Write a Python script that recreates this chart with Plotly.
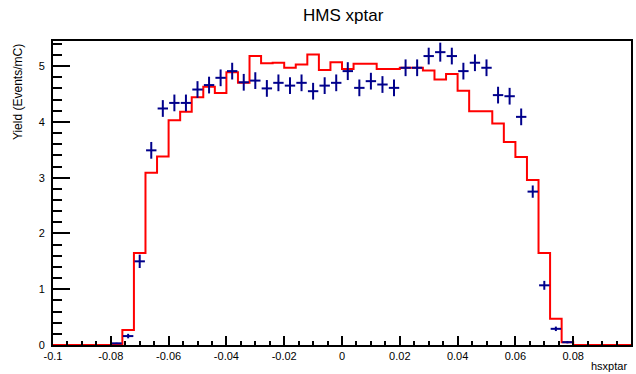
import numpy as np
import plotly.graph_objects as go

# Histogram binning: 50 bins on [-0.1, 0.1]
n_bins = 50
x_min, x_max = -0.1, 0.1

# Simulated yield per bin (red histogram)
sim_yield = [
    0, 0, 0, 0, 0,
    0, 0.27, 1.65, 3.09, 3.38, 4.03, 4.18, 4.44, 4.63, 4.52,
    4.89, 4.70, 5.18, 5.05, 5.06, 4.97, 5.03, 5.21, 4.93, 5.07,
    4.95, 5.04, 5.04, 4.95, 4.95, 4.97, 4.97, 4.92, 4.76, 4.86,
    4.56, 4.19, 4.19, 3.97, 3.64, 3.37, 2.96, 1.65, 0.47, 0.05,
    0, 0, 0, 0, 0,
]

# Measured yield per bin (blue points) and its statistical error
data_yield = [
    0, 0, 0, 0, 0,
    0.03, 0.16, 1.50, 3.49, 4.24, 4.34, 4.34, 4.58, 4.66, 4.79,
    4.91, 4.71, 4.74, 4.60, 4.70, 4.65, 4.70, 4.55, 4.65, 4.70,
    4.91, 4.61, 4.73, 4.67, 4.61, 4.97, 4.97, 5.18, 5.25, 5.18,
    4.91, 5.06, 4.97, 4.48, 4.46, 4.09, 2.75, 1.07, 0.29, 0.05,
    0, 0, 0, 0, 0,
]
data_err = [
    0, 0, 0, 0, 0,
    0.01, 0.04, 0.12, 0.15, 0.15, 0.15, 0.15, 0.15, 0.15, 0.15,
    0.15, 0.15, 0.15, 0.15, 0.15, 0.15, 0.15, 0.15, 0.15, 0.15,
    0.16, 0.15, 0.15, 0.15, 0.15, 0.15, 0.15, 0.15, 0.17, 0.15,
    0.15, 0.15, 0.15, 0.15, 0.15, 0.15, 0.11, 0.08, 0.04, 0.02,
    0, 0, 0, 0, 0,
]

x_tick_vals = [-0.1, -0.08, -0.06, -0.04, -0.02, 0, 0.02, 0.04, 0.06, 0.08, 0.1]
x_tick_text = ["-0.1", "-0.08", "-0.06", "-0.04", "-0.02", "0",
               "0.02", "0.04", "0.06", "0.08", "0.1"]
y_tick_vals = [0, 1, 2, 3, 4, 5]
y_tick_text = ["0", "1", "2", "3", "4", "5"]

edges = np.linspace(x_min, x_max, n_bins + 1)
centers = 0.5 * (edges[:-1] + edges[1:])
half_width = 0.5 * (edges[1] - edges[0])

sim = np.array(sim_yield)
dat = np.array(data_yield)
err = np.array(data_err)
filled = dat > 0

FONT = "Liberation Sans, Arial, Helvetica, sans-serif"
NAVY = "#00008b"

fig = go.Figure()

# Simulation drawn as a step outline
fig.add_trace(go.Scatter(
    x=edges,
    y=np.append(sim, sim[-1]),
    mode="lines",
    line=dict(shape="hv", color="#ff0000", width=2),
    hoverinfo="skip",
    showlegend=False,
))

# Data drawn as error-bar crosses (no visible marker)
fig.add_trace(go.Scatter(
    x=centers[filled],
    y=dat[filled],
    mode="markers",
    marker=dict(size=1, color="rgba(0,0,0,0)",
                line=dict(width=0, color="rgba(0,0,0,0)")),
    error_y=dict(type="data", array=err[filled], color=NAVY,
                 thickness=2, width=0),
    error_x=dict(type="data", array=np.full(filled.sum(), half_width * 0.9),
                 color=NAVY, thickness=2, width=0),
    showlegend=False,
))

axis_common = dict(
    showgrid=False,
    zeroline=False,
    showline=True,
    linecolor="black",
    linewidth=2,
    mirror=True,
    ticks="inside",
    tickcolor="black",
    tickwidth=1.5,
    tickfont=dict(family=FONT, size=11, color="black"),
    layer="above traces",
)

fig.update_layout(
    width=636,
    height=374,
    margin=dict(l=53, r=3, t=41, b=29),
    paper_bgcolor="white",
    plot_bgcolor="white",
    xaxis=dict(
        range=[x_min, x_max],
        tickmode="array",
        tickvals=x_tick_vals,
        ticktext=x_tick_text,
        ticklen=9,
        minor=dict(tickmode="linear", tick0=x_min, dtick=0.005,
                   ticks="inside", ticklen=4.5, tickwidth=1.5,
                   tickcolor="black", showgrid=False),
        **axis_common,
    ),
    yaxis=dict(
        range=[0, 5.45],
        tickmode="array",
        tickvals=y_tick_vals,
        ticktext=y_tick_text,
        ticklen=17,
        ticklabelstandoff=4,
        minor=dict(tickmode="linear", tick0=0, dtick=0.2,
                   ticks="inside", ticklen=8.5, tickwidth=1.5,
                   tickcolor="black", showgrid=False),
        **axis_common,
    ),
    annotations=[
        dict(text="HMS xptar", xref="paper", yref="paper",
             x=(345 - 53) / 580, y=1 + (41 - 15) / 304,
             xanchor="center", yanchor="middle", showarrow=False,
             font=dict(family=FONT, size=17, color="black")),
        dict(text="Yield (Events/mC)", xref="paper", yref="paper",
             x=(18 - 53) / 580, y=1 - 1 / 304, textangle=-90,
             xanchor="center", yanchor="top", showarrow=False,
             font=dict(family=FONT, size=12, color="black")),
        dict(text="hsxptar", xref="paper", yref="paper",
             x=(631 - 53) / 580, y=-21 / 304,
             xanchor="right", yanchor="middle", showarrow=False,
             font=dict(family=FONT, size=11, color="black")),
    ],
)

fig.write_html("out.html")
